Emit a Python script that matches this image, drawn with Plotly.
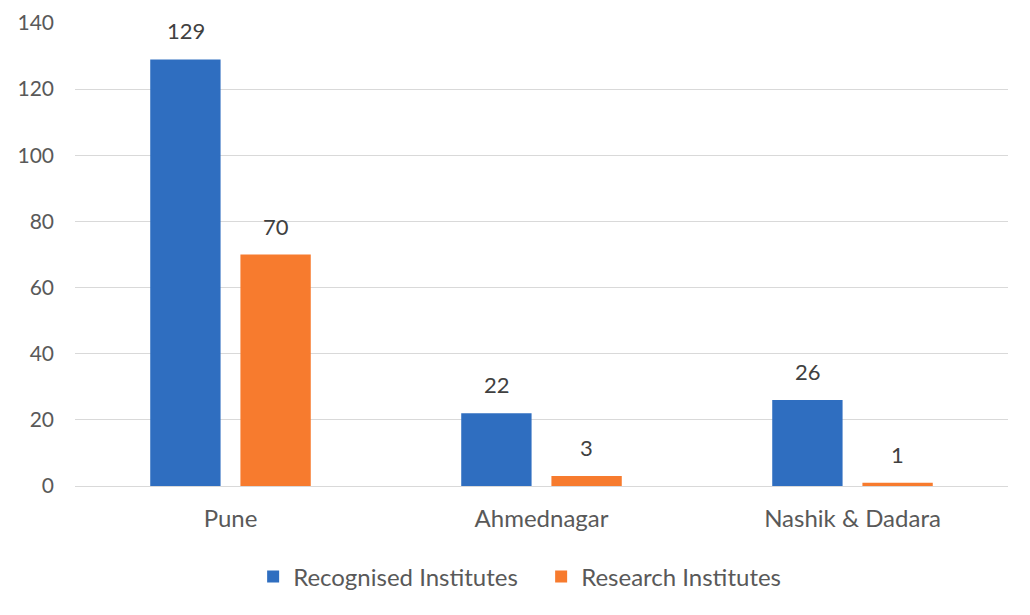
import plotly.graph_objects as go

districts = ['Pune', 'Ahmednagar', 'Nashik & Dadara']
recognised = [129, 22, 26]
research = [70, 3, 1]

blue = '#2F6EC0'
orange = '#F77B2E'
font_name = 'Lato'

fig = go.Figure()
fig.add_trace(go.Bar(x=districts, y=recognised, name='Recognised Institutes',
                     marker=dict(color=blue, line_width=0)))
fig.add_trace(go.Bar(x=districts, y=research, name='Research Institutes',
                     marker=dict(color=orange, line_width=0)))

# value labels above each bar
for vals, shift in [(recognised, -45), (research, 45)]:
    for d, v in zip(districts, vals):
        fig.add_annotation(x=d, y=v, text=str(v), showarrow=False,
                           xshift=shift, yshift=13, yanchor='bottom',
                           font=dict(family=font_name, size=22, color='#404040'))

# page body has an 8px margin, so the margins are trimmed by that much
fig.update_layout(
    width=1030, height=615,
    margin=dict(l=67, r=30, t=15, b=137, autoexpand=False),
    paper_bgcolor='white', plot_bgcolor='white',
    font=dict(family=font_name, size=21, color='#595959'),
    barmode='group', bargap=0.42, bargroupgap=0.22,
    showlegend=True,
    legend=dict(orientation='h', xref='container', yref='container',
                x=0.238, xanchor='left', y=0.075, yanchor='middle',
                font=dict(size=24, color='#595959'), itemwidth=30,
                entrywidth=243, entrywidthmode='pixels',
                traceorder='normal'),
)
fig.update_xaxes(showline=False, ticks='', ticklabelstandoff=16, automargin=False,
                 tickfont=dict(size=24, color='#595959'))
fig.update_yaxes(range=[0, 140], dtick=20, showgrid=True, gridcolor='#D9D9D9',
                 gridwidth=1, zeroline=True, zerolinecolor='#D9D9D9',
                 zerolinewidth=1, ticks='', ticklabelstandoff=20, automargin=False,
                 tickfont=dict(size=21, color='#595959'))

fig.write_html('out.html')
